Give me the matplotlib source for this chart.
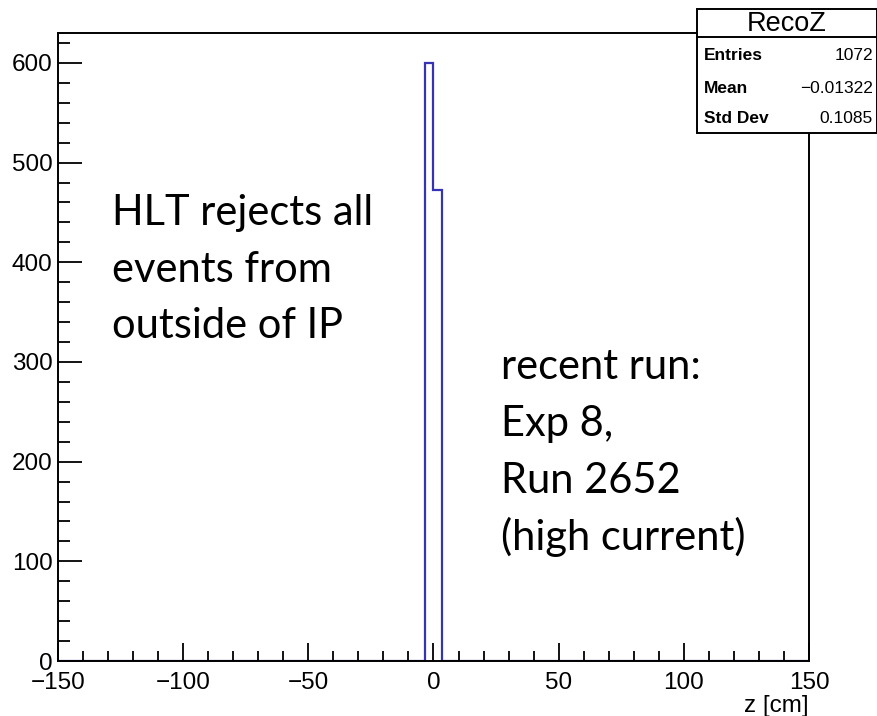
import numpy as np
import matplotlib
matplotlib.use("Agg")
import matplotlib.pyplot as plt
from matplotlib.patches import Rectangle
from matplotlib.ticker import MultipleLocator

# ---------------- data ----------------
x_min, x_max = -150, 150
n_bins = 90
counts = [0] * 44 + [600, 472] + [0] * 44
y_max = 630
x_major = [-150, -100, -50, 0, 50, 100, 150]
y_major = [0, 100, 200, 300, 400, 500, 600]
x_label = "z [cm]"

stats_title = "RecoZ"
stats_names = ["Entries", "Mean", "Std Dev"]
stats_values = ["1072", "\u22120.01322", "0.1085"]

note1_lines = ["HLT rejects all", "events from", "outside of IP"]
note2_lines = ["recent run:", "Exp 8,", "Run 2652", "(high current)"]

# ---------------- figure ----------------
W, H = 878, 716
fig = plt.figure(figsize=(W / 100, H / 100), dpi=100)
fx = lambda px: px / W
fy = lambda py: 1 - py / H

ax = fig.add_axes([fx(58), fy(661), fx(809) - fx(58), fy(33) - fy(661)])
edges = np.linspace(x_min, x_max, n_bins + 1)
ax.stairs(counts, edges, baseline=0, fill=False, color="#3434b4", lw=1.6, zorder=1)

ax.set_xlim(x_min, x_max)
ax.set_ylim(0, y_max)
ax.set_xticks(x_major)
ax.set_yticks(y_major)
ax.xaxis.set_minor_locator(MultipleLocator(10))
ax.yaxis.set_minor_locator(MultipleLocator(20))

tick_font = dict(family="Liberation Sans", size=17.5)
ax.set_xticklabels([f"{v}".replace("-", "\u2212") for v in x_major], **tick_font)
ax.set_yticklabels([f"{v}" for v in y_major], **tick_font)

ax.tick_params(axis="x", which="major", direction="in", length=13, width=1.3, pad=8, colors="black")
ax.tick_params(axis="x", which="minor", direction="in", length=7.2, width=1.3)
ax.tick_params(axis="y", which="major", direction="in", length=17, width=1.3, pad=4)
ax.tick_params(axis="y", which="minor", direction="in", length=8.6, width=1.3)
for s in ax.spines.values():
    s.set_linewidth(1.4)
    s.set_zorder(2.5)

fig.text(fx(809), fy(695), x_label, ha="right", va="top", **tick_font)

# ---------------- annotations ----------------
note_font = dict(family="Lato", size=30, color="black")
base1 = [225, 282, 338]
for line, b in zip(note1_lines, base1):
    fig.text(fx(112), fy(b), line, ha="left", va="baseline", **note_font)
base2 = [379, 436, 493, 550]
for line, b in zip(note2_lines, base2):
    fig.text(fx(501), fy(b), line, ha="left", va="baseline", **note_font)

# ---------------- stats box ----------------
bx0, bx1, by0, by1, bsep = 697, 877, 9, 133, 37
fig.patches.append(Rectangle((fx(bx0), fy(by1)), fx(bx1) - fx(bx0), fy(by0) - fy(by1),
                             transform=fig.transFigure, facecolor="white",
                             edgecolor="black", lw=1.4, zorder=5))
fig.add_artist(plt.Line2D([fx(bx0), fx(bx1)], [fy(bsep), fy(bsep)],
                          transform=fig.transFigure, color="black", lw=1.4, zorder=6))
fig.text(fx((bx0 + bx1) / 2), fy(24), stats_title, ha="center", va="center",
         family="Liberation Sans", size=19.5, zorder=7)
row_base = [60, 93, 123]
for name, val, b in zip(stats_names, stats_values, row_base):
    fig.text(fx(704), fy(b), name, ha="left", va="baseline", family="Liberation Sans",
             size=12.5, weight="bold", zorder=7)
    fig.text(fx(873), fy(b), val, ha="right", va="baseline", family="Liberation Sans",
             size=12.5, zorder=7)

fig.savefig("out.png", dpi=100)
